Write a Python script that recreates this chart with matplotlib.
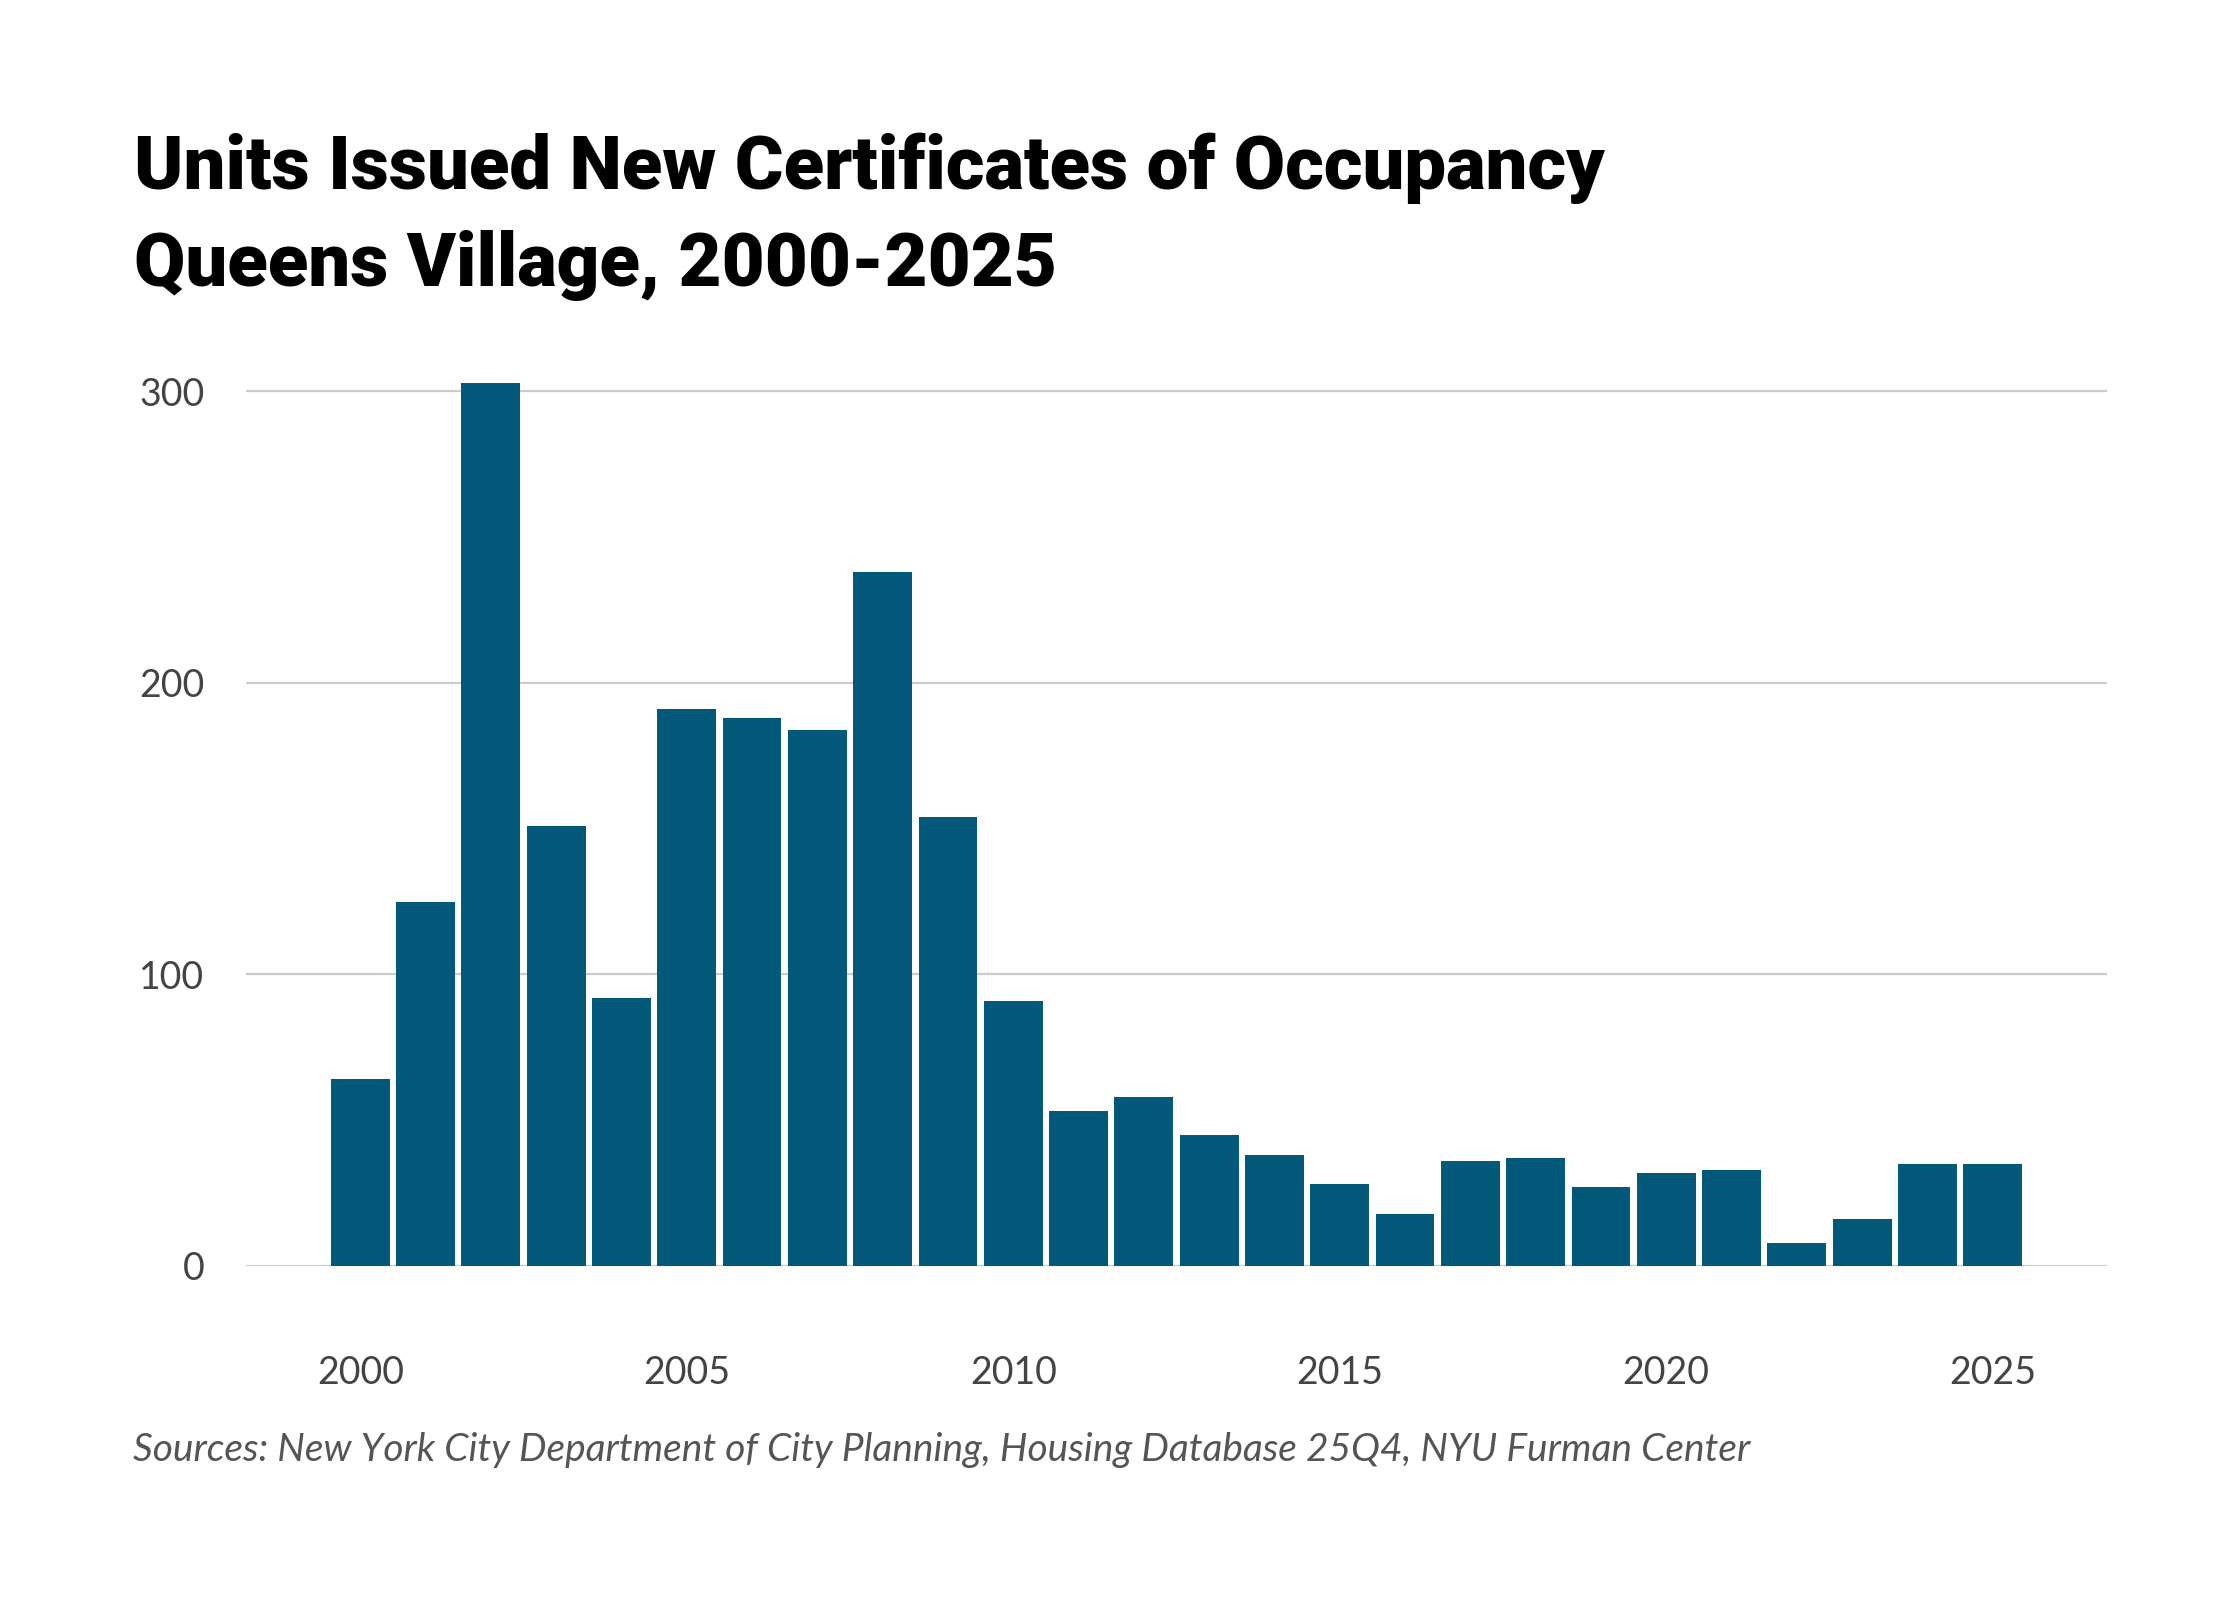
import matplotlib
matplotlib.use("Agg")
import matplotlib.pyplot as plt

years = list(range(2000, 2026))
units = [64, 125, 303, 151, 92, 191, 188, 184, 238, 154, 91, 53, 58, 45, 38, 28,
         18, 36, 37, 27, 32, 33, 8, 16, 35, 35]
yticks = [0, 100, 200, 300]
xticks = [2000, 2005, 2010, 2015, 2020, 2025]

title1 = "Units Issued New Certificates of Occupancy"
title2 = "Queens Village, 2000-2025"
source = "Sources: New York City Department of City Planning, Housing Database 25Q4, NYU Furman Center"

W, H = 2240, 1600
fig = plt.figure(figsize=(W / 100, H / 100), dpi=100)
fig.patch.set_facecolor("white")

left, right = 246, 2107
zero_y, top_y = 1266, 370
ax = fig.add_axes([left / W, 1 - zero_y / H, (right - left) / W, (zero_y - top_y) / H])

ax.bar(years, units, width=0.9, color="#02597A", zorder=3)
ax.set_xlim(1998.25, 2026.75)
ax.set_ylim(0, 307.3)

ax.set_yticks(yticks)
ax.set_yticklabels([str(v) for v in yticks])
ax.set_xticks(xticks)
ax.set_xticklabels([str(v) for v in xticks])
ax.grid(axis="y", color="#cccccc", linewidth=1.6, zorder=0)
ax.grid(axis="x", visible=False)
for s in ax.spines.values():
    s.set_visible(False)
ax.tick_params(axis="both", length=0, labelsize=27, labelcolor="#444444")
ax.tick_params(axis="x", pad=64)
ax.tick_params(axis="y", pad=30)
for lab in ax.get_xticklabels() + ax.get_yticklabels():
    lab.set_fontfamily("Lato")

fig.text(134 / W, 1 - 189 / H, title1,
         fontsize=53.6, fontweight="black", family="Roboto", color="black",
         ha="left", va="baseline")
fig.text(134 / W, 1 - 286 / H, title2,
         fontsize=53.6, fontweight="black", family="Roboto", color="black",
         ha="left", va="baseline")
fig.text(133 / W, 1 - 1450 / H, source, fontsize=28, style="italic",
         family="Lato", color="#555555", ha="left", va="center")

fig.savefig("out.png", dpi=100, facecolor="white")
